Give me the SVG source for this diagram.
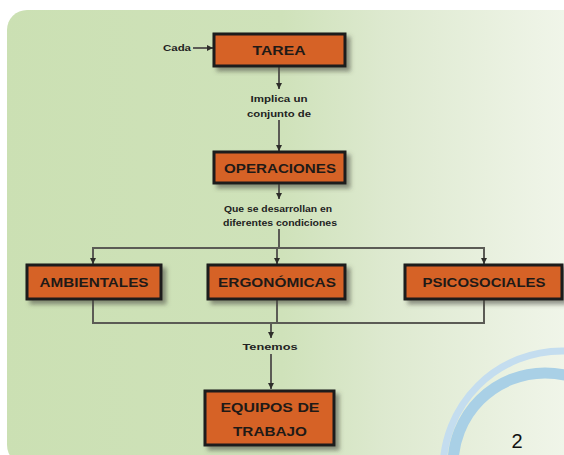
<svg xmlns="http://www.w3.org/2000/svg" width="564" height="455" viewBox="0 0 564 455">
<defs>
<linearGradient id="bg" x1="0" y1="0" x2="564" y2="0" gradientUnits="userSpaceOnUse">
<stop offset="0" stop-color="#cbe0b3"/>
<stop offset="0.5" stop-color="#cfe2ba"/>
<stop offset="0.68" stop-color="#dde9cf"/>
<stop offset="1" stop-color="#f0f5e9"/>
</linearGradient>
<filter id="sh" x="-10%" y="-20%" width="130%" height="150%">
<feDropShadow dx="4" dy="4" stdDeviation="2" flood-color="#4a4a40" flood-opacity="0.55"/>
</filter>
<marker id="ah" markerWidth="6" markerHeight="6" refX="6" refY="3" orient="auto" markerUnits="userSpaceOnUse">
<path d="M0,0 L6,3 L0,6 z" fill="#2e2e2b"/>
</marker>
<style>
.box{fill:#d66228;stroke:#1a1a1a;stroke-width:3;filter:url(#sh)}
.bt{font-family:"Liberation Sans",Arial,sans-serif;font-weight:bold;font-size:13px;fill:#1f1a17;text-anchor:middle}
.lb{font-family:"Liberation Sans",Arial,sans-serif;font-weight:bold;font-size:9px;fill:#222;text-anchor:middle}
.c{stroke:#5b5b55;stroke-width:2;fill:none}
.a{marker-end:url(#ah)}
</style>
</defs>
<rect x="0" y="0" width="564" height="455" fill="#ffffff"/>
<rect x="7" y="10" width="600" height="455" rx="20" fill="url(#bg)"/>
<circle cx="562" cy="470" r="119" fill="none" stroke="#c4ddef" stroke-width="7"/>
<circle cx="545" cy="465" r="92" fill="none" stroke="#a9d0e6" stroke-width="11"/>
<text x="517" y="448" font-family="Liberation Sans,Arial,sans-serif" font-size="20" fill="#111" text-anchor="middle">2</text>

<g id="connectors">
<line class="c a" x1="193" y1="48" x2="213" y2="48"/>
<line class="c a" x1="279" y1="66" x2="279" y2="89"/>
<line class="c a" x1="279" y1="120" x2="279" y2="151"/>
<line class="c a" x1="279" y1="183" x2="279" y2="199"/>
<line class="c" x1="279" y1="229" x2="279" y2="248"/>
<polyline class="c" points="93,265 93,248 484,248 484,265"/>
<line class="c a" x1="93" y1="248" x2="93" y2="264"/>
<line class="c a" x1="277" y1="248" x2="277" y2="264"/>
<line class="c a" x1="484" y1="248" x2="484" y2="264"/>
<polyline class="c" points="93,299 93,323 484,323 484,299"/>
<line class="c" x1="277" y1="299" x2="277" y2="323"/>
<line class="c a" x1="271" y1="323" x2="271" y2="338" stroke="#222"/>
<line class="c a" x1="271" y1="354" x2="271" y2="389"/>
</g>

<g id="label-cada"><text class="lb" x="177" y="51" textLength="28" lengthAdjust="spacingAndGlyphs">Cada</text></g>
<g id="label-implica">
<text class="lb" x="279" y="102" textLength="57" lengthAdjust="spacingAndGlyphs">Implica un</text>
<text class="lb" x="279" y="117" textLength="64" lengthAdjust="spacingAndGlyphs">conjunto de</text>
</g>
<g id="label-desarrollan">
<text class="lb" x="278" y="212" textLength="108" lengthAdjust="spacingAndGlyphs">Que se desarrollan en</text>
<text class="lb" x="280" y="226" textLength="114" lengthAdjust="spacingAndGlyphs">diferentes condiciones</text>
</g>
<g id="label-tenemos"><text class="lb" x="270" y="350" textLength="55" lengthAdjust="spacingAndGlyphs">Tenemos</text></g>

<g id="tarea">
<rect class="box" x="214" y="34" width="131" height="32"/>
<text class="bt" x="279" y="55" textLength="53" lengthAdjust="spacingAndGlyphs">TAREA</text>
</g>
<g id="operaciones">
<rect class="box" x="214" y="152" width="131" height="31"/>
<text class="bt" x="280" y="173" textLength="112" lengthAdjust="spacingAndGlyphs">OPERACIONES</text>
</g>
<g id="ambientales">
<rect class="box" x="27" y="265" width="134" height="34"/>
<text class="bt" x="94" y="287" textLength="109" lengthAdjust="spacingAndGlyphs">AMBIENTALES</text>
</g>
<g id="ergonomicas">
<rect class="box" x="208" y="265" width="137" height="34"/>
<text class="bt" x="277" y="287" textLength="118" lengthAdjust="spacingAndGlyphs">ERGONÓMICAS</text>
</g>
<g id="psicosociales">
<rect class="box" x="405" y="265" width="157" height="34"/>
<text class="bt" x="484" y="287" textLength="123" lengthAdjust="spacingAndGlyphs">PSICOSOCIALES</text>
</g>
<g id="equipos">
<rect class="box" x="205" y="391" width="129" height="54"/>
<text class="bt" x="270" y="412" textLength="99" lengthAdjust="spacingAndGlyphs">EQUIPOS DE</text>
<text class="bt" x="270" y="436" textLength="74" lengthAdjust="spacingAndGlyphs">TRABAJO</text>
</g>
</svg>
